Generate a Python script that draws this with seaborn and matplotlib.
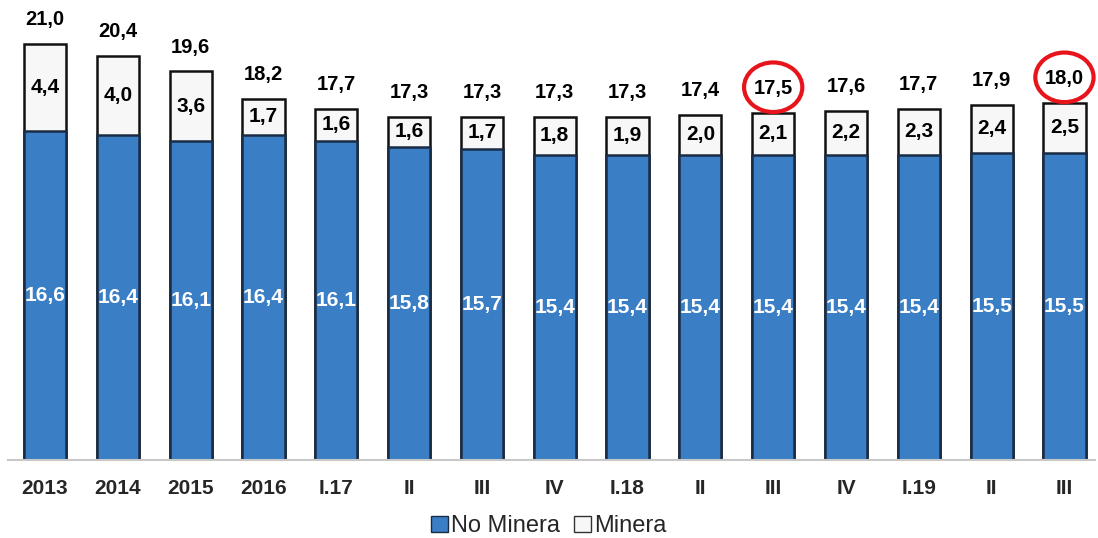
import matplotlib
matplotlib.use('Agg')
import seaborn as sns
import numpy as np
import pandas as pd
import matplotlib.pyplot as plt
from matplotlib.patches import Patch, Ellipse

periods = ["2013", "2014", "2015", "2016", "I.17", "II", "III", "IV",
           "I.18", "II", "III", "IV", "I.19", "II", "III"]
no_minera = [16.6, 16.4, 16.1, 16.4, 16.1, 15.8, 15.7, 15.4,
             15.4, 15.4, 15.4, 15.4, 15.4, 15.5, 15.5]
minera = [4.4, 4.0, 3.6, 1.7, 1.6, 1.6, 1.7, 1.8,
          1.9, 2.0, 2.1, 2.2, 2.3, 2.4, 2.5]
totals = [21.0, 20.4, 19.6, 18.2, 17.7, 17.3, 17.3, 17.3,
          17.3, 17.4, 17.5, 17.6, 17.7, 17.9, 18.0]
circled = [10, 14]

blue = "#3A7EC6"

sns.set_style("white")
plt.rcParams['font.family'] = ['Liberation Sans', 'DejaVu Sans']

# unique x keys so repeated quarter names stay separate bars
keys = [f"{i}" for i in range(len(periods))]
df = pd.DataFrame({"key": keys, "no_minera": no_minera, "minera": minera, "total": totals})

fig = plt.figure(figsize=(10.98, 5.38), dpi=100)
ax = fig.add_axes([0.0073, 0.145, 0.99, 0.855])

sns.barplot(data=df, x="key", y="total", color="#F7F7F7", width=0.58,
            edgecolor="#111111", linewidth=1.8, saturation=1, ax=ax)
sns.barplot(data=df, x="key", y="no_minera", color=blue, width=0.58,
            edgecolor="#1a2c44", linewidth=1.8, saturation=1, ax=ax)

for i in range(len(periods)):
    ax.text(i, no_minera[i] / 2, f"{no_minera[i]:.1f}".replace(".", ","),
            ha="center", va="center", color="white", fontsize=15, fontweight="bold")
    ax.text(i, no_minera[i] + (totals[i] - no_minera[i]) / 2,
            f"{minera[i]:.1f}".replace(".", ","),
            ha="center", va="center", color="black", fontsize=15, fontweight="bold")
    ax.text(i, totals[i] + 0.75, f"{totals[i]:.1f}".replace(".", ","),
            ha="center", va="bottom", color="black", fontsize=14.5, fontweight="bold")

for i in circled:
    ax.add_patch(Ellipse((i, totals[i] + 1.3), 0.8, 2.5, fill=False,
                         edgecolor="#E8141B", linewidth=3, clip_on=False))

ax.set_xlim(-0.508, 14.42)
ax.set_ylim(0, 23.2)
ax.set_xticks(range(len(periods)))
ax.set_xticklabels(periods, fontsize=15, fontweight="bold")
ax.tick_params(axis="x", length=0, pad=14)
ax.set_yticks([])
ax.set_xlabel("")
ax.set_ylabel("")
for side in ["top", "right", "left"]:
    ax.spines[side].set_visible(False)
ax.spines["bottom"].set_color("#C8C8C8")
ax.spines["bottom"].set_linewidth(1.5)

handles = [Patch(facecolor=blue, edgecolor="#1a2c44", label="No Minera"),
           Patch(facecolor="#F7F7F7", edgecolor="#333333", label="Minera")]
fig.legend(handles=handles, loc="center", bbox_to_anchor=(0.5, 0.022), ncol=2,
           frameon=False, fontsize=17, handlelength=0.7, handleheight=0.7,
           handletextpad=0.15, columnspacing=0.6)

fig.savefig("out.png", dpi=100)
